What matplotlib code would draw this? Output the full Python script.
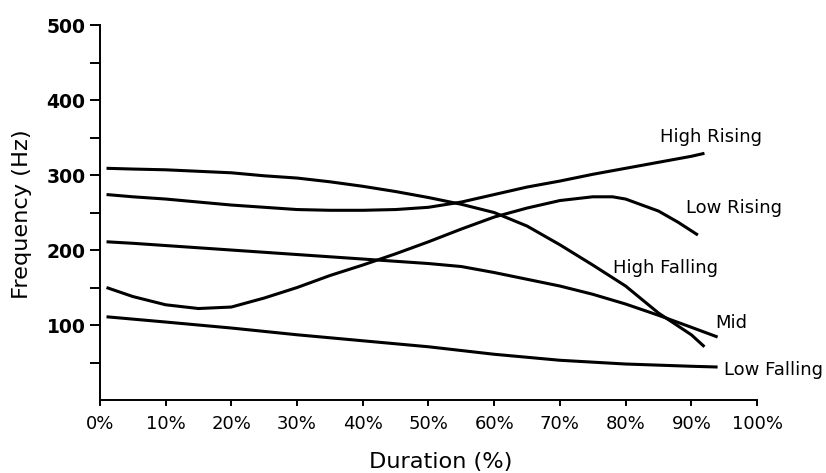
import matplotlib
matplotlib.use("Agg")
import matplotlib.pyplot as plt
from matplotlib.ticker import FuncFormatter

# Fundamental frequency contours of the five tones (duration %, Hz)
high_falling_x = [1, 5, 10, 15, 20, 25, 30, 35, 40, 45, 50, 55, 60, 65, 70, 75, 80, 85, 90, 92]
high_falling_y = [309, 308, 307, 305, 303, 299, 296, 291, 285, 278, 270, 261, 250, 232, 207, 180, 152, 116, 87, 71]

high_rising_x = [1, 5, 10, 15, 20, 25, 30, 35, 40, 45, 50, 55, 60, 65, 70, 75, 80, 85, 90, 92]
high_rising_y = [274, 271, 268, 264, 260, 257, 254, 253, 253, 254, 257, 264, 274, 284, 292, 301, 309, 317, 325, 329]

low_rising_x = [1, 5, 10, 15, 20, 25, 30, 35, 40, 45, 50, 55, 60, 65, 70, 75, 78, 80, 85, 88, 91]
low_rising_y = [150, 138, 127, 122, 124, 136, 150, 166, 180, 195, 211, 228, 244, 256, 266, 271, 271, 268, 252, 237, 220]

mid_x = [1, 5, 10, 15, 20, 25, 30, 35, 40, 45, 50, 55, 60, 65, 70, 75, 80, 85, 90, 94]
mid_y = [211, 209, 206, 203, 200, 197, 194, 191, 188, 185, 182, 178, 170, 161, 152, 141, 128, 113, 97, 84]

low_falling_x = [1, 10, 20, 30, 40, 50, 60, 70, 80, 90, 94]
low_falling_y = [111, 104, 96, 87, 79, 71, 61, 53, 48, 45, 44]

tone_names = ["High Rising", "Low Rising", "High Falling", "Mid", "Low Falling"]
name_x = [85.2, 89.2, 78.1, 93.6, 95.0]
name_y = [351, 256, 176, 103, 40]

x_ticks = list(range(0, 101, 10))
y_ticks = [100, 200, 300, 400, 500]
y_minor_ticks = [50, 150, 250, 350, 450]

FONT = "DejaVu Sans"

fig = plt.figure(figsize=(8.26, 4.73), dpi=100)
ax = fig.add_axes([0.121, 0.1543, 0.7955, 0.7927])

series = [
    (high_falling_x, high_falling_y),
    (high_rising_x, high_rising_y),
    (low_rising_x, low_rising_y),
    (mid_x, mid_y),
    (low_falling_x, low_falling_y),
]
for xs, ys in series:
    ax.plot(xs, ys, color="black", lw=2.2, solid_capstyle="butt")

for name, tx, ty in zip(tone_names, name_x, name_y):
    ax.text(tx, ty, name, fontsize=13, family=FONT,
            ha="left", va="center", color="black")

ax.set_xlim(0, 100)
ax.set_ylim(0, 500)
ax.spines["top"].set_visible(False)
ax.spines["right"].set_visible(False)
ax.spines["left"].set_linewidth(1.4)
ax.spines["bottom"].set_linewidth(1.4)

ax.set_xticks(x_ticks)
ax.xaxis.set_major_formatter(FuncFormatter(lambda v, p: f"{int(v)}%"))
ax.set_yticks(y_ticks)
ax.set_yticks(y_minor_ticks, minor=True)

ax.tick_params(axis="y", which="both", length=7.5, width=1.4, pad=3, direction="out")
ax.tick_params(axis="x", which="both", length=4, width=1.4, pad=6.5, direction="out")
for lab in ax.get_yticklabels():
    lab.set_fontweight("bold")
    lab.set_fontsize(13.5)
    lab.set_family(FONT)
for lab in ax.get_xticklabels():
    lab.set_fontsize(13)
    lab.set_family(FONT)

# axis titles placed in figure pixels
fig.text(22 / 826, 1 - 214 / 473, "Frequency (Hz)", rotation=90,
         fontsize=16.2, family=FONT, ha="center", va="center")
fig.text(441 / 826, 1 - 468 / 473, "Duration (%)",
         fontsize=16.2, family=FONT, ha="center", va="baseline")

fig.savefig("out.png", dpi=100)
